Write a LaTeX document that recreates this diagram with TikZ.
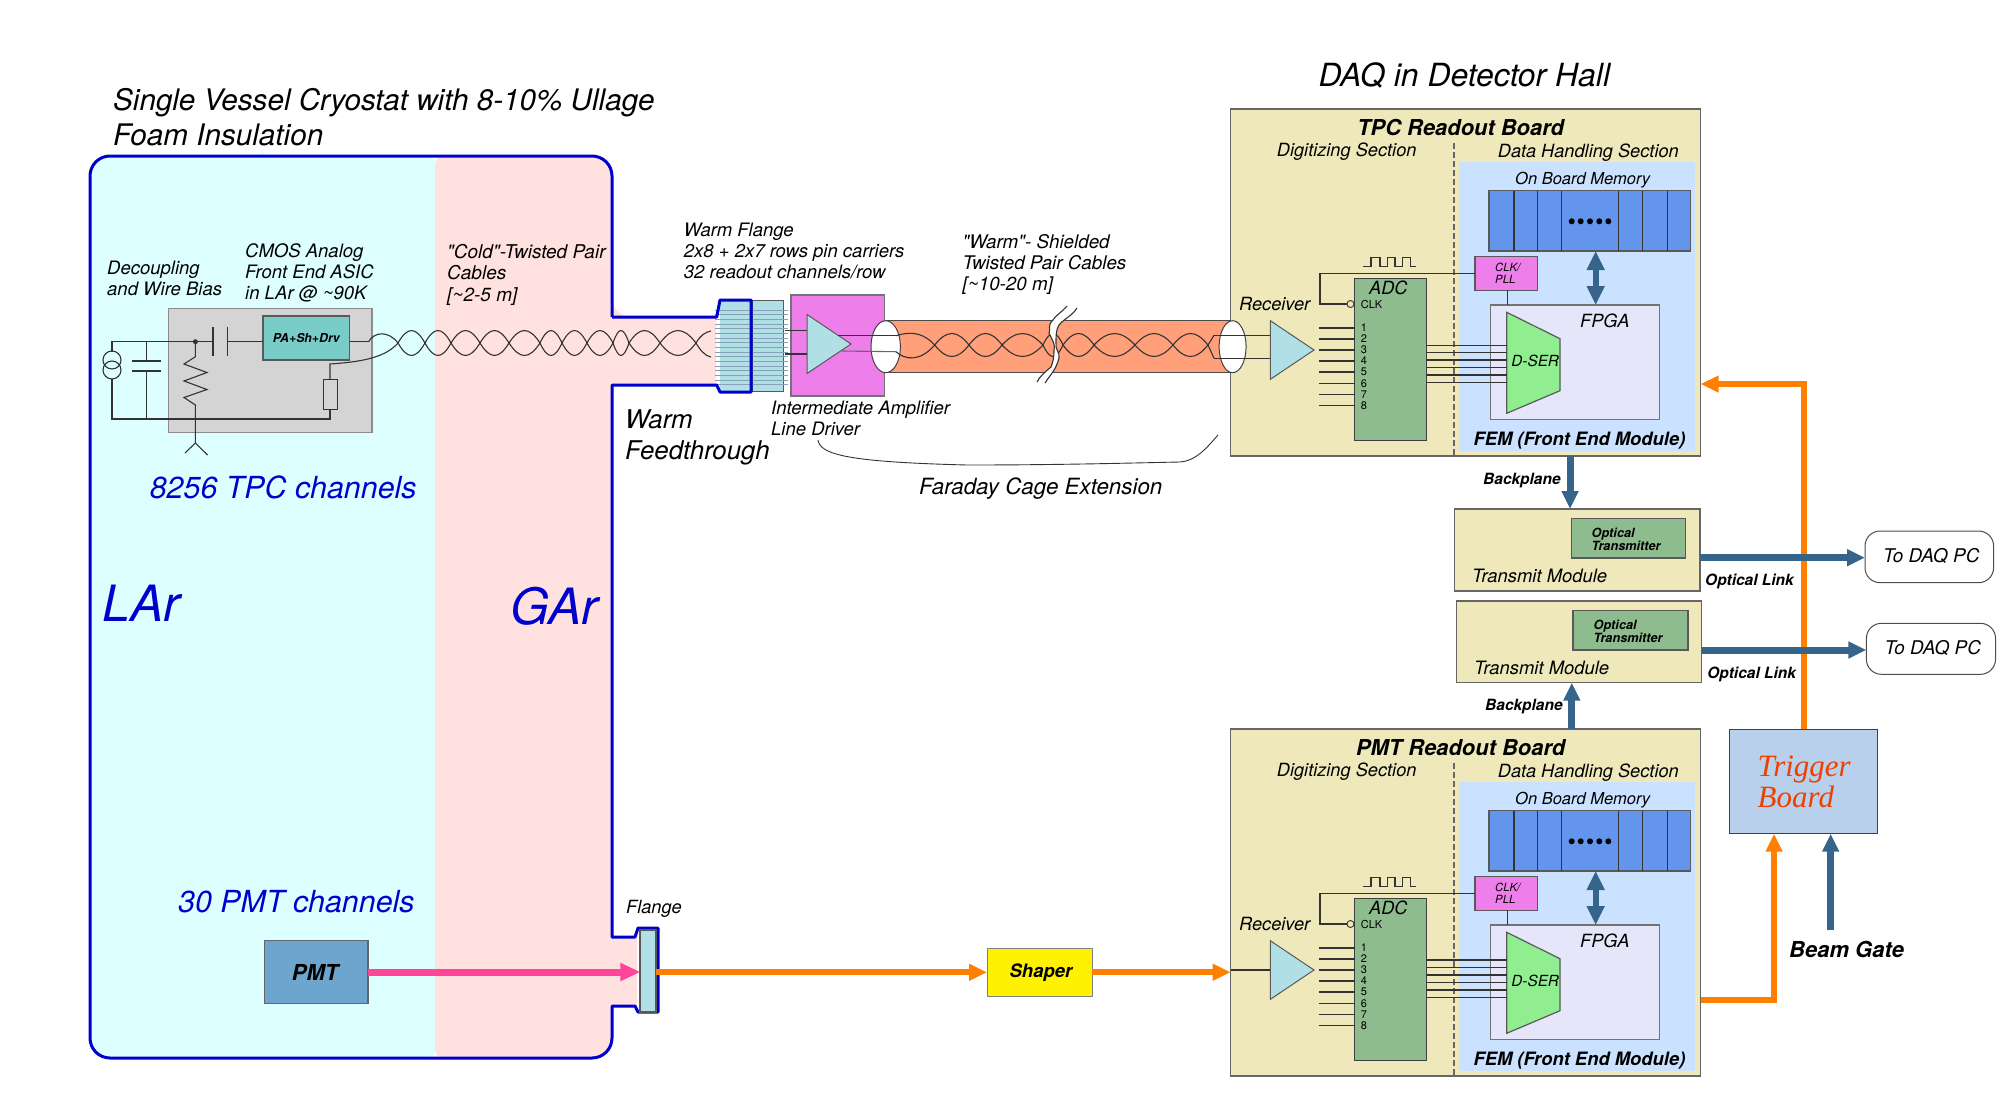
\documentclass[tikz,border=0pt]{standalone}
\usepackage{fontspec}
\setmainfont{TeX Gyre Heros}[Ligatures=TeXOff]
\newfontfamily\trigfont{Liberation Serif}
\usetikzlibrary{shapes.geometric,arrows.meta,calc}
\definecolor{LArFill}{HTML}{DEFFFF}
\definecolor{GArFill}{HTML}{FFE2DF}
\definecolor{BoardFill}{HTML}{EEE8BB}
\definecolor{FemFill}{HTML}{CAE1FF}
\definecolor{MemFill}{HTML}{6495ED}
\definecolor{GreenFill}{HTML}{8FBC8F}
\definecolor{AmpFill}{HTML}{B0E0E6}
\definecolor{PinkBox}{HTML}{EE7FEA}
\definecolor{CableFill}{HTML}{FFA07A}
\definecolor{SteelLine}{HTML}{36648B}
\definecolor{OrangeLine}{HTML}{FF8000}
\definecolor{HotLine}{HTML}{FF4499}
\definecolor{VesselBlue}{HTML}{0000CC}
\definecolor{FpgaFill}{HTML}{E6E6FA}
\definecolor{DserFill}{HTML}{90EE90}
\definecolor{PmtFill}{HTML}{6EA5CE}
\definecolor{AsicFill}{HTML}{7ACCC8}
\definecolor{TrigFill}{HTML}{B9D0EC}
\definecolor{TrigText}{HTML}{EE4000}
\tikzstyle{panel} = [rectangle, anchor=north west, inner sep=0, outer sep=0, draw=black!65, line width=1.5pt]
\tikzstyle{board} = [panel, fill=BoardFill, draw=black!60]
\tikzstyle{amp} = [isosceles triangle, isosceles triangle stretches, inner sep=0, outer sep=0, anchor=apex, fill=AmpFill, draw=black!65, line width=1pt]
\tikzstyle{note} = [inner sep=0, anchor=base west, align=left, font=\itshape\fontsize{18.5}{21}\selectfont]
\tikzstyle{strong} = [inner sep=0, anchor=base west, align=left, font=\bfseries\itshape\fontsize{15.5}{19}\selectfont]
\tikzstyle{channel} = [note, text=VesselBlue, font=\itshape\fontsize{30.4}{38}\selectfont]
\tikzstyle{pinlabel} = [inner sep=0, font=\fontsize{11}{13}\selectfont]
\tikzstyle{wire} = [line width=1.1pt, draw=black!80]
\tikzstyle{steelarrow} = [line width=7pt, draw=SteelLine, -{Triangle[length=18pt,width=16pt]}]
\tikzstyle{orangearrow} = [line width=6pt, draw=OrangeLine, -{Triangle[length=18pt,width=16pt]}]
% one pair of lobes for each crossing pair
\newcommand{\TwistPair}[3]{
\foreach \xa/\xb in {#3} {
\draw [wire] (\xa,#1) .. controls (\xa+0.35*\xb-0.35*\xa,#1-1.33*#2) and (\xb-0.35*\xb+0.35*\xa,#1-1.33*#2) .. (\xb,#1);
\draw [wire] (\xa,#1) .. controls (\xa+0.35*\xb-0.35*\xa,#1+1.33*#2) and (\xb-0.35*\xb+0.35*\xa,#1+1.33*#2) .. (\xb,#1);
}}
% the two readout boards differ only in title, place and data lines
\newcommand{\ReadoutBoard}[4]{
\begin{scope}[shift={(0,#3)}]
\node (#1board) [board, minimum width=470pt, minimum height=347pt] at (1230.7,109) {};
\node (#1fem) [panel, fill=FemFill, draw=none, minimum width=236pt, minimum height=288.7pt] at (1459,162) {};
\draw [wire, dash pattern=on 6pt off 3pt, draw=black!60, line width=1.3pt] (1454,143) -- (1454,456);
\node (#1title) [strong, anchor=base, font=\bfseries\itshape\fontsize{21.9}{26}\selectfont] at (1460.7,135.5) {#2};
\node (#1dig) [note, font=\itshape\fontsize{18.2}{21}\selectfont] at (1276.7,156.7) {Digitizing Section};
\node (#1data) [note, font=\itshape\fontsize{18.2}{21}\selectfont] at (1497.7,157.7) {Data Handling Section};
\node (#1memtxt) [note, font=\itshape\fontsize{16.5}{20}\selectfont] at (1515,184) {On Board Memory};
\node (#1mem) [panel, fill=MemFill, minimum width=201.3pt, minimum height=60.3pt] at (1489,190.7) {};
\foreach \x in {1514,1537.7,1561.7,1618.3,1642.7,1667.3}
\draw [wire] (\x,190.7) -- (\x,251);
\foreach \x in {1571.7,1580.7,1590,1599.3,1608.3}
\fill (\x,221.3) circle (3pt);
\node (#1fpga) [panel, fill=FpgaFill, draw=black!55, minimum width=168.6pt, minimum height=114.3pt] at (1490.7,305) {};
\node (#1fpgatxt) [note, font=\itshape\fontsize{18.2}{21}\selectfont] at (1580,327.5) {FPGA};
\node (#1pll) [panel, fill=PinkBox, minimum width=62.7pt, minimum height=33.6pt] at (1475,256.7) {};
\node (#1plltxt) [note, anchor=north west, font=\itshape\fontsize{11.3}{11.5}\selectfont] at (1495,263) {CLK/\\PLL};
\node (#1adc) [panel, fill=GreenFill, draw=black!75, minimum width=72pt, minimum height=161.6pt] at (1354.7,278.7) {};
\node (#1adctxt) [note, font=\itshape\fontsize{18.2}{21}\selectfont] at (1369,294.5) {ADC};
\node (#1clktxt) [pinlabel, anchor=base west] at (1360.7,308) {CLK};
\node (#1clkdot) [circle, draw=black!80, fill=BoardFill, line width=0.9pt, inner sep=0, minimum size=7pt] at (1350.5,304) {};
\coordinate (#1clkbend) at (1320,304);
\node (#1rectxt) [note, font=\itshape\fontsize{18.2}{21}\selectfont] at (1239,310.5) {Receiver};
\node (#1recv) [amp, minimum width=58.6pt, minimum height=43.7pt] at (1314,350) {};
\draw [fill=DserFill, draw=black!65, line width=1.2pt] (1506.7,312.3) -- (1560,338.7) -- (1560,390.7) -- (1506.7,413.3) -- cycle;
\node (#1dser) [note, font=\itshape\fontsize{15.3}{18}\selectfont] at (1511.2,366.3) {D-SER};
\coordinate (#1dserin) at (1506.7,360);
\node (#1femtxt) [strong, font=\bfseries\itshape\fontsize{18.4}{22}\selectfont] at (1473.3,445) {FEM (Front End Module)};
% clock lines
\draw [wire] (1363.3,266.7) -- (1371,266.7) -- (1371,257.3) -- (1380,257.3) -- (1380,266.7) -- (1387.7,266.7) -- (1387.7,257.3) -- (1395,257.3) -- (1395,266.7) -- (1402.7,266.7) -- (1402.7,257.3) -- (1410.7,257.3) -- (1410.7,266.7) -- (1415.7,266.7);
\draw [wire] (#1pll.west) -| (#1clkbend) -- (#1clkdot);
\draw [wire] (#1pll.south -| 1507.3,0) -- (#1fpga.north -| 1507.3,0);
\draw [line width=6pt, draw=SteelLine, {Triangle[length=19pt,width=17pt]}-{Triangle[length=19pt,width=17pt]}] (1595.7,0 |- #1mem.south) -- (1595.7,0 |- #1fpga.north);
% data lines
\foreach \y/\n in {328/1,339/2,350/3,361/4,372/5,383.3/6,394.3/7,405.3/8} {
\draw [wire] (1319.3,\y) -- (#1adc.west |- 0,\y);
\node (#1pin\n) [pinlabel] at (1364,\y) {\n};
}
\foreach \y in {#4}
\draw [wire] (#1adc.east |- 0,\y) -- (#1dserin |- 0,\y);
\end{scope}
}
\begin{document}
\begin{tikzpicture}[x=1pt, y=-1pt]
\useasboundingbox (0,0) rectangle (2000,1117);
% Draw vessel
\fill [LArFill] (262,156) [rounded corners=20pt] -| (90,600) |- (262,1058) [rounded corners=8pt] -| (435,600) |- cycle;
\fill [GArFill] (435,600) [rounded corners=8pt] |- (500,156) [rounded corners=20pt] -| (612,317) [sharp corners] -- (716,317) -- (716,385) -- (612,385) -- (612,937) -- (637,937) -- (637,1006) -- (612,1006) [rounded corners=20pt] |- (500,1058) [rounded corners=8pt] -| (435,600);
\node (title) [note, font=\itshape\fontsize{29.65}{34.3}\selectfont] at (113,145) {Single Vessel Cryostat with 8-10\% Ullage\\Foam Insulation};
\node (hall) [note, font=\itshape\fontsize{31.9}{38}\selectfont] at (1318.5,86) {DAQ in Detector Hall};
\node (lar) [channel, font=\itshape\fontsize{50}{60}\selectfont] at (102,621) {LAr};
\node (gar) [channel, font=\itshape\fontsize{50}{60}\selectfont] at (510,624) {GAr};
\node (tpcch) [channel] at (149.6,498.3) {8256 TPC channels};
\node (pmtch) [channel] at (178,912) {30 PMT channels};
% Draw front end
\node (asic) [panel, fill=black!17, draw=black!45, minimum width=203.4pt, minimum height=124pt] at (168.6,308.7) {};
\node (pasd) [panel, fill=AsicFill, minimum width=86.6pt, minimum height=44pt, font=\bfseries\itshape\fontsize{12.3}{14}\selectfont] at (263,316) {PA+Sh+Drv};
\coordinate (capa) at (213,341.7);
\coordinate (capb) at (227.5,341.7);
\coordinate (node1) at (195.4,341.7);
\coordinate (cablein) at (368.6,341.7);
\draw [wire] (capb) -- (pasd.west |- capb);
\draw [wire] (pasd.east |- cablein) -- (cablein);
\draw [wire] (112,352) -- (112,341.7) -- (capa);
\draw [wire] (213,326.7) -- (213,356);
\draw [wire] (227.5,326.7) -- (227.5,356);
\draw [wire] (112,360) circle (9pt);
\draw [wire] (112,370) circle (9pt);
\draw [wire] (112,379) -- (112,419) -- (330,419) -- (330,409);
\draw [wire] (146.4,341.7) -- (146.4,361);
\draw [wire] (146.4,371) -- (146.4,419);
\draw [wire] (132,361) -- (161,361);
\draw [wire] (132,371) -- (161,371);
\fill [black!80] (node1) circle (2.5pt);
\draw [wire] (node1) -- (195.4,356.7) -- (184,364) -- (207,372.5) -- (184,381) -- (207,389.5) -- (184,397.5) -- (195.4,405) -- (195.4,443) -- (185,453);
\draw [wire] (195.4,443) -- (207.5,455);
\node (termres) [panel, draw=black!80, line width=1pt, minimum width=14pt, minimum height=30pt] at (323,379) {};
\draw [wire] (termres.north) -- (330,364) .. controls (360,362) and (385,358) .. (398,343);
\draw [wire] (cablein) .. controls (374,332) and (388,330) .. (398,343);
\TwistPair{343}{12.5}{398/425,425/451,451/480,480/509,509/540,540/562,562/587,587/613,613/629,629/660,660/696}
\draw [wire] (696,343) .. controls (700,336) and (705,332) .. (711,331);
\draw [wire] (696,343) .. controls (700,350) and (705,356) .. (711,357);
\node (decoup) [note] at (107,295.5) {Decoupling\\and Wire Bias};
\node (asictxt) [note] at (245,299) {CMOS Analog\\Front End ASIC\\in LAr @ \textasciitilde90K};
\node (coldtxt) [note, font=\itshape\fontsize{19}{21.3}\selectfont] at (447,301) {"Cold"-Twisted Pair\\Cables\\{[}\textasciitilde2-5 m]};
% Draw warm flange
\node (flangea) [panel, fill=AmpFill, draw=none, minimum width=31.4pt, minimum height=91pt] at (719.6,300) {};
\node (flangeb) [panel, fill=AmpFill, draw=black!65, line width=1pt, minimum width=31pt, minimum height=91pt] at (752,300) {};
\foreach \i in {0,...,16}
\draw [line width=0.9pt, draw=SteelLine!60] (715,310+4.67*\i) -- (788,310+4.67*\i);
% Draw vessel wall
\draw [line width=3pt, draw=VesselBlue, line join=round] (612,317) -- (716.7,317) -- (720,300) -- (751,300) -- (751,392) -- (720,392) -- (716.7,385) -- (612,385) -- (612,937) -- (635,937) -- (638,928) -- (658,928) -- (658,1012) -- (638,1012) -- (635,1006) -- (612,1006) [rounded corners=20pt] -- (612,1058) -- (90,1058) -- (90,156) -- (612,156) [sharp corners] -- (612,317);
% Draw line driver
\node (driver) [panel, fill=PinkBox, draw=black!55, minimum width=93.5pt, minimum height=101pt] at (791,295) {};
\node (driveramp) [amp, minimum width=59pt, minimum height=44pt] at (851,344) {};
\draw [wire] (785,330.7) -- (driveramp.lower side |- 0,330.7);
\draw [wire] (785,354) -- (driveramp.lower side |- 0,354);
% Draw cable
\node (tube) [rectangle, inner sep=0, outer sep=0, anchor=north west, fill=CableFill, minimum width=346pt, minimum height=52pt] at (886,320.7) {};
\draw [wire, draw=black!70] (tube.north west) -- (tube.north east);
\draw [wire, draw=black!70] (tube.south west) -- (tube.south east);
\node (sleevea) [ellipse, fill=white, draw=black!75, line width=1pt, inner sep=0, minimum width=29.4pt, minimum height=52pt] at (885.7,346.7) {};
\draw [wire] (838,335.7) -- (896,335.7);
\draw [wire, draw=black!60] (842,351) -- (896,351.7);
\draw [wire] (896,335.7) .. controls (915,330) and (925,335) .. (934.7,345);
\draw [wire] (896,351.7) .. controls (905,360) and (920,362) .. (934.7,345);
\TwistPair{345}{11.5}{934.7/969,969/1002,1002/1043,1043/1063,1063/1094,1094/1135,1135/1173}
\fill [white] (1067,306) .. controls (1062,312) and (1055,316) .. (1053,320) .. controls (1047,325) and (1051,330) .. (1049,333) .. controls (1052,340) and (1056,345) .. (1054,350) .. controls (1054,358) and (1053,362) .. (1051,367) .. controls (1045,372) and (1040,376) .. (1037,382) -- (1045,383) .. controls (1050,375) and (1056,370) .. (1059,358) .. controls (1060,352) and (1055,350) .. (1056,343) .. controls (1056,335) and (1056,330) .. (1059,325) .. controls (1065,318) and (1072,316) .. (1077,308) -- cycle;
\draw [wire] (1067,306) .. controls (1062,312) and (1055,316) .. (1053,320) .. controls (1047,325) and (1051,330) .. (1049,333) .. controls (1052,340) and (1056,345) .. (1054,350) .. controls (1054,358) and (1053,362) .. (1051,367) .. controls (1045,372) and (1040,376) .. (1037,382);
\draw [wire] (1077,308) .. controls (1072,316) and (1065,318) .. (1059,325) .. controls (1056,330) and (1056,335) .. (1056,343) .. controls (1055,350) and (1060,352) .. (1059,358) .. controls (1056,370) and (1050,375) .. (1045,383);
\node (flangetitle) [note] at (683.7,278.5) {Warm Flange\\2x8 + 2x7 rows pin carriers\\32 readout channels/row};
\node (warmtxt) [note, font=\itshape\fontsize{18.8}{21}\selectfont] at (962.4,290.5) {"Warm"- Shielded\\Twisted Pair Cables\\{[}\textasciitilde10-20 m]};
\node (drivertxt) [note] at (771,435.5) {Intermediate Amplifier\\Line Driver};
\node (feedtxt) [note, font=\itshape\fontsize{25.8}{31}\selectfont] at (625,459) {Warm\\Feedthrough};
\node (cagetxt) [note, font=\itshape\fontsize{22.35}{27}\selectfont] at (919,494) {Faraday Cage Extension};
\draw [wire, line width=0.9pt] (818,440) .. controls (820,455) and (850,462) .. (967,465) .. controls (1060,465) and (1130,463) .. (1180,462) .. controls (1195,461) and (1205,450) .. (1218,435);
% Draw boards
\ReadoutBoard{tpc}{TPC Readout Board}{0}{345.3,352.7,360,367.7,375,382.7}
\ReadoutBoard{pmt}{PMT Readout Board}{620}{340,347.3,355,362.7,370,377.3}
% cable end sits on the board
\node (sleeveb) [ellipse, fill=white, draw=black!75, line width=1pt, inner sep=0, minimum width=27pt, minimum height=52pt] at (1232.6,346.7) {};
\TwistPair{345}{11.5}{1173/1208}
\draw [wire] (1208,345) -- (1214,335.3);
\draw [wire] (1208,345) -- (1214,358.3);
\draw [wire] (1214,335.3) -- (tpcrecv.lower side |- 0,335.3);
\draw [wire] (1214,358.3) -- (tpcrecv.lower side |- 0,358.3);
\draw [wire] (pmtboard.west |- pmtrecv.lower side) -- (pmtrecv.lower side);
% Draw transmit modules
\node (txa) [board, minimum width=245.3pt, minimum height=82pt] at (1454.7,509) {};
\node (txaopt) [panel, fill=GreenFill, minimum width=114pt, minimum height=39.7pt] at (1571.5,518.3) {};
\node (txatxt) [strong, font=\bfseries\itshape\fontsize{12.7}{13}\selectfont] at (1591.5,550.3) {Optical\\Transmitter};
\node (txalabel) [note, font=\itshape\fontsize{18.4}{21}\selectfont] at (1472,582.7) {Transmit Module};
\node (txb) [board, minimum width=245.1pt, minimum height=81.7pt] at (1456.5,601) {};
\node (txbopt) [panel, fill=GreenFill, minimum width=114.8pt, minimum height=39.7pt] at (1573,610.3) {};
\node (txbtxt) [strong, font=\bfseries\itshape\fontsize{12.7}{13}\selectfont] at (1593.5,642.3) {Optical\\Transmitter};
\node (txblabel) [note, font=\itshape\fontsize{18.4}{21}\selectfont] at (1474,674.7) {Transmit Module};
\node (pca) [rectangle, rounded corners=15pt, draw=black!70, line width=1pt, anchor=north west, outer sep=0, minimum width=128.6pt, minimum height=51.7pt] at (1865,531) {};
\node (pcatxt) [note, font=\itshape\fontsize{18.9}{21}\selectfont] at (1883,562.7) {To DAQ PC};
\node (pcb) [rectangle, rounded corners=15pt, draw=black!70, line width=1pt, anchor=north west, outer sep=0, minimum width=129.1pt, minimum height=51pt] at (1866.4,623.3) {};
\node (pcbtxt) [note, font=\itshape\fontsize{18.9}{21}\selectfont] at (1884.5,654.5) {To DAQ PC};
% Draw small parts
\node (pmt) [panel, fill=PmtFill, draw=black!60, minimum width=103.3pt, minimum height=63pt, font=\bfseries\itshape\fontsize{22}{26}\selectfont, xshift=0pt] at (264.5,940.5) {\hspace{-2pt}PMT};
\node (flangep) [panel, fill=AmpFill, draw=black!65, line width=2pt, minimum width=15.1pt, minimum height=81.7pt] at (640.4,930) {};
\node (flangeptxt) [note, font=\itshape\fontsize{18.2}{21}\selectfont] at (626,913.5) {Flange};
\node (shaper) [panel, fill=yellow, draw=black!50, line width=1pt, minimum width=105pt, minimum height=47.5pt, font=\bfseries\itshape\fontsize{18.5}{22}\selectfont] at (987,948.5) {\hspace{3pt}Shaper};
\node (trigger) [panel, fill=TrigFill, draw=black!75, minimum width=148.4pt, minimum height=104.4pt] at (1729.3,729.3) {};
\node (trigtxt) [note, text=TrigText, font=\trigfont\itshape\fontsize{31}{30.7}\selectfont] at (1757.5,807.5) {Trigger\\Board};
\coordinate (beamin) at (1830.7,930);
\node (beamtxt) [strong, font=\bfseries\itshape\fontsize{22}{26}\selectfont] at (1789,957) {Beam Gate};
\coordinate (turnup) at (1804.3,384);
% Draw arrows
\draw [line width=7pt, draw=HotLine, -{Triangle[length=20pt,width=17pt]}] (pmt.east) -- (flangep.west |- pmt.east);
\draw [orangearrow] (flangep.east |- shaper.west) -- (shaper.west);
\draw [orangearrow] (shaper.east) -- (pmtboard.west |- shaper.east);
\draw [orangearrow] (trigger.north -| turnup) -- (turnup) -- (tpcboard.east |- turnup);
\draw [orangearrow] (pmtboard.east |- 0,1000) -| (1774,0 |- trigger.south);
\draw [steelarrow, line width=6.7pt] (beamin) -- (beamin |- trigger.south);
\draw [steelarrow] (tpcboard.south -| 1570,0) -- (txa.north -| 1570,0);
\draw [steelarrow] (pmtboard.north -| 1571.8,0) -- (txb.south -| 1571.8,0);
\draw [steelarrow] (txa.east |- 0,557.7) -- (pca.west |- 0,557.7);
\draw [steelarrow] (txb.east |- 0,650) -- (pcb.west |- 0,650);
\node (linka) [strong] at (1705,585.5) {Optical Link};
\node (linkb) [strong] at (1707.2,678.5) {Optical Link};
\node (planea) [strong] at (1483,484.3) {Backplane};
\node (planeb) [strong] at (1485,710.5) {Backplane};
\end{tikzpicture}
\end{document}
